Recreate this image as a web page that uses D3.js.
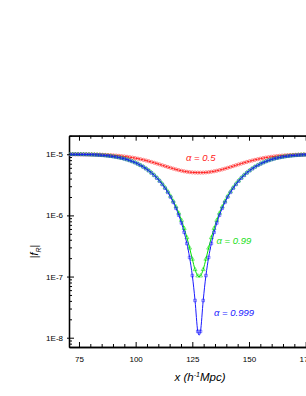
<!DOCTYPE html>
<html><head><meta charset="utf-8">
<script src="https://cdn.jsdelivr.net/npm/d3@7"></script>
<style>html,body{margin:0;padding:0;background:#fff;}svg{display:block;}</style>
</head><body>
<svg id="chart" width="306" height="396"></svg>
<script>
// x positions (h^-1 Mpc)
const xs = [71.0,72.2,73.4,74.6,75.8,77.0,78.2,79.4,80.6,81.8,83.0,84.2,85.4,86.6,87.8,89.0,90.2,91.4,92.6,93.8,95.0,96.2,97.4,98.6,99.8,101.0,102.2,103.4,104.6,105.8,107.0,108.2,109.4,110.6,111.8,113.0,114.2,115.4,116.6,117.8,119.0,120.2,121.4,122.6,123.8,125.0,126.2,127.4,
128.6,129.8,131.0,132.2,133.4,134.6,135.8,137.0,138.2,139.4,140.6,141.8,143.0,144.2,145.4,146.6,147.8,149.0,150.2,151.4,152.6,153.8,155.0,156.2,157.4,158.6,159.8,161.0,162.2,163.4,164.6,165.8,167.0,168.2,169.4,170.6,171.8,173.0,174.2,175.4,176.6,177.8,179.0];

// |f_R| for alpha = 0.5
const fAlpha05 = [9.989e-6,9.986e-6,9.981e-6,9.975e-6,9.968e-6,9.959e-6,9.947e-6,9.933e-6,9.916e-6,9.895e-6,9.869e-6,9.839e-6,9.802e-6,9.759e-6,9.709e-6,9.650e-6,9.583e-6,9.505e-6,9.417e-6,9.318e-6,9.208e-6,9.084e-6,8.949e-6,8.802e-6,8.642e-6,8.471e-6,8.288e-6,8.095e-6,7.894e-6,7.685e-6,7.471e-6,7.252e-6,7.033e-6,6.814e-6,6.598e-6,6.387e-6,6.185e-6,5.993e-6,5.814e-6,5.649e-6,5.501e-6,5.371e-6,5.260e-6,5.169e-6,5.098e-6,5.047e-6,5.015e-6,5.001e-6,
5.001e-6,5.015e-6,5.047e-6,5.098e-6,5.169e-6,5.260e-6,5.371e-6,5.501e-6,5.649e-6,5.814e-6,5.993e-6,6.185e-6,6.387e-6,6.598e-6,6.814e-6,7.033e-6,7.252e-6,7.471e-6,7.685e-6,7.894e-6,8.095e-6,8.288e-6,8.471e-6,8.642e-6,8.802e-6,8.949e-6,9.084e-6,9.208e-6,9.318e-6,9.417e-6,9.505e-6,9.583e-6,9.650e-6,9.709e-6,9.759e-6,9.802e-6,9.839e-6,9.869e-6,9.895e-6,9.916e-6,9.933e-6,9.947e-6,9.959e-6];

// |f_R| for alpha = 0.99
const fAlpha099 = [9.978e-6,9.972e-6,9.963e-6,9.951e-6,9.937e-6,9.919e-6,9.896e-6,9.868e-6,9.834e-6,9.792e-6,9.741e-6,9.681e-6,9.609e-6,9.523e-6,9.423e-6,9.308e-6,9.174e-6,9.020e-6,8.847e-6,8.650e-6,8.431e-6,8.187e-6,7.920e-6,7.628e-6,7.311e-6,6.972e-6,6.610e-6,6.229e-6,5.830e-6,5.416e-6,4.992e-6,4.559e-6,4.125e-6,3.691e-6,3.263e-6,2.847e-6,2.447e-6,2.067e-6,1.711e-6,1.386e-6,1.093e-6,8.348e-7,6.148e-7,4.343e-7,2.936e-7,1.930e-7,1.303e-7,1.027e-7,
1.027e-7,1.303e-7,1.930e-7,2.936e-7,4.343e-7,6.148e-7,8.348e-7,1.093e-6,1.386e-6,1.711e-6,2.067e-6,2.447e-6,2.847e-6,3.263e-6,3.691e-6,4.125e-6,4.559e-6,4.992e-6,5.416e-6,5.830e-6,6.229e-6,6.610e-6,6.972e-6,7.311e-6,7.628e-6,7.920e-6,8.187e-6,8.431e-6,8.650e-6,8.847e-6,9.020e-6,9.174e-6,9.308e-6,9.423e-6,9.523e-6,9.609e-6,9.681e-6,9.741e-6,9.792e-6,9.834e-6,9.868e-6,9.896e-6,9.919e-6];

// |f_R| for alpha = 0.999
const fAlpha0999 = [9.978e-6,9.971e-6,9.962e-6,9.951e-6,9.936e-6,9.918e-6,9.895e-6,9.867e-6,9.832e-6,9.790e-6,9.739e-6,9.678e-6,9.605e-6,9.519e-6,9.418e-6,9.301e-6,9.166e-6,9.012e-6,8.836e-6,8.638e-6,8.417e-6,8.171e-6,7.901e-6,7.606e-6,7.287e-6,6.944e-6,6.579e-6,6.195e-6,5.792e-6,5.375e-6,4.946e-6,4.510e-6,4.071e-6,3.634e-6,3.202e-6,2.782e-6,2.378e-6,1.995e-6,1.636e-6,1.308e-6,1.012e-6,7.515e-7,5.295e-7,3.474e-7,2.054e-7,1.038e-7,4.06e-8,1.27e-8,
1.27e-8,4.06e-8,1.038e-7,2.054e-7,3.474e-7,5.295e-7,7.515e-7,1.012e-6,1.308e-6,1.636e-6,1.995e-6,2.378e-6,2.782e-6,3.202e-6,3.634e-6,4.071e-6,4.510e-6,4.946e-6,5.375e-6,5.792e-6,6.195e-6,6.579e-6,6.944e-6,7.287e-6,7.606e-6,7.901e-6,8.171e-6,8.417e-6,8.638e-6,8.836e-6,9.012e-6,9.166e-6,9.301e-6,9.418e-6,9.519e-6,9.605e-6,9.678e-6,9.739e-6,9.790e-6,9.832e-6,9.867e-6,9.895e-6,9.918e-6];

const xTicks = [75, 100, 125, 150, 175];
const yTicks = [1e-8, 1e-7, 1e-6, 1e-5];
const yTickLabels = ["1E-8", "1E-7", "1E-6", "1E-5"];
const seriesNames = ["α = 0.5", "α = 0.99", "α = 0.999"];

const svg = d3.select("#chart");
const L = 69, R = 317, T = 135.7, B = 347;
const xScale = d3.scaleLinear().domain([70.6, 180]).range([L, R]);
const yScale = d3.scaleLog().domain([7.05e-9, 2.01e-5]).range([B, T]);

const font = "'Liberation Sans', Arial, sans-serif";

const xMinor = d3.range(75, 181, 5).filter(v => !xTicks.includes(v));
const yMinor = [];
[1e-9, 1e-8, 1e-7, 1e-6, 1e-5].forEach(d => { for (let k = 2; k <= 9; k++) { const v = d * k; if (v >= 7.05e-9 && v <= 2.01e-5) yMinor.push(v); } });

const axesG = svg.append("g");
axesG.append("g").attr("transform", `translate(0,${B})`)
  .call(d3.axisBottom(xScale).tickValues(xTicks).tickSizeInner(-5).tickSizeOuter(0).tickPadding(9));
axesG.append("g").attr("transform", `translate(0,${B})`)
  .call(d3.axisBottom(xScale).tickValues(xMinor).tickSizeInner(-3).tickSizeOuter(0).tickFormat(""));
axesG.append("g").attr("transform", `translate(0,${T})`)
  .call(d3.axisTop(xScale).tickValues(xTicks).tickSizeInner(-5).tickSizeOuter(0).tickFormat(""));
axesG.append("g").attr("transform", `translate(0,${T})`)
  .call(d3.axisTop(xScale).tickValues(xMinor).tickSizeInner(-3).tickSizeOuter(0).tickFormat(""));
const leftAxis = axesG.append("g").attr("transform", `translate(${L},0)`)
  .call(d3.axisLeft(yScale).tickValues(yTicks).tickFormat((d, i) => yTickLabels[i]).tickSizeInner(-5).tickSizeOuter(0).tickPadding(6));
axesG.append("g").attr("transform", `translate(${L},0)`)
  .call(d3.axisLeft(yScale).tickValues(yMinor).tickSizeInner(-3).tickSizeOuter(0).tickFormat(""));

axesG.selectAll(".domain").attr("stroke", "#000").attr("stroke-width", 1.3);
axesG.selectAll(".tick line").attr("stroke", "#000").attr("stroke-width", 1);
axesG.selectAll(".tick text").attr("font-family", font).attr("font-size", 8).attr("fill", "#000");
leftAxis.selectAll(".tick line").attr("x1", -2);

const series = [
  {vals: fAlpha05, color: "#ff2020", mark: "circle"},
  {vals: fAlpha099, color: "#00e000", mark: "triangle"},
  {vals: fAlpha0999, color: "#1a1aff", mark: "square"}
];
svg.append("clipPath").attr("id", "clip").append("rect")
  .attr("x", L).attr("y", T).attr("width", R - L).attr("height", B - T);
const plot = svg.append("g").attr("clip-path", "url(#clip)");
const line = d3.line().x(d => xScale(d[0])).y(d => yScale(d[1])).curve(d3.curveCatmullRom.alpha(0));
series.forEach(s => {
  const pts = xs.map((xv, i) => [xv, s.vals[i]]);
  plot.append("path").datum(pts).attr("d", line).attr("fill", "none")
    .attr("stroke", s.color).attr("stroke-width", 1);
  const sym = s.mark === "circle" ? d3.symbolCircle : s.mark === "square" ? d3.symbolSquare : d3.symbolTriangle;
  plot.append("g").selectAll("path").data(pts).join("path")
    .attr("transform", d => `translate(${xScale(d[0])},${yScale(d[1])})`)
    .attr("d", d3.symbol().type(sym).size(s.mark === "circle" ? 8 : 7))
    .attr("fill", "none").attr("stroke", s.color).attr("stroke-width", 0.7).attr("stroke-opacity", 0.75);
});

const labelInfo = [
  {x: 186, y: 161, color: "#ff2020"},
  {x: 216.5, y: 244, color: "#20e020"},
  {x: 214, y: 316, color: "#1a1aff"}
];
labelInfo.forEach((l, i) => {
  svg.append("text").attr("x", l.x).attr("y", l.y).attr("fill", l.color)
    .attr("font-family", font).attr("font-style", "italic").attr("font-size", 9.5)
    .text(seriesNames[i]);
});

const xt = svg.append("text").attr("x", 200).attr("y", 381).attr("text-anchor", "middle")
  .attr("font-family", font).attr("font-size", 11.5).attr("font-style", "italic").attr("fill", "#000");
xt.append("tspan").text("x (h");
xt.append("tspan").attr("font-size", 7).attr("dy", -4.5).text("-1");
xt.append("tspan").attr("dy", 4.5).text("Mpc)");

const yt = svg.append("text").attr("transform", "translate(38,251.5) rotate(-90)").attr("text-anchor", "middle")
  .attr("font-family", font).attr("font-size", 10.5).attr("fill", "#000");
yt.append("tspan").text("|");
yt.append("tspan").attr("font-style", "italic").text("f");
yt.append("tspan").attr("font-size", 7).attr("dy", 2.5).attr("font-style", "italic").text("R");
yt.append("tspan").attr("dy", -2.5).text("|");
</script>
</body></html>
